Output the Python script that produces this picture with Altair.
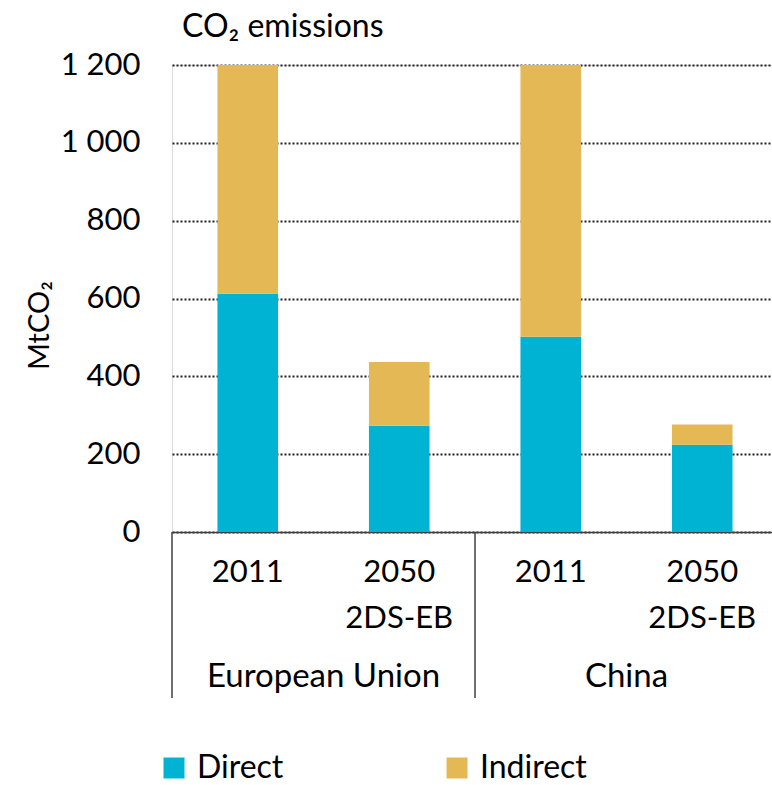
import altair as alt
import pandas as pd

# Source data: CO2 emissions (MtCO2) by region and period
regions = ["European Union", "European Union", "China", "China"]
periods = ["2011", "2050\n2DS-EB", "2011", "2050\n2DS-EB"]
direct = [612, 273, 502, 224]
indirect = [588, 164, 698, 52]
sources = ["Direct", "Indirect"]
colors = ["#00B3D3", "#E3B855"]
y_ticks = [0, 200, 400, 600, 800, 1000, 1200]
group_names = ["European Union", "China"]
chart_title = ["CO₂ emissions"]

FONT = "Lato"
W, H = 600, 467

keys = [f"{r} | {p}" for r, p in zip(regions, periods)]

rows = []
for k, d, i in zip(keys, direct, indirect):
    rows.append({"key": k, "source": sources[0], "value": d, "order": 0})
    rows.append({"key": k, "source": sources[1], "value": i, "order": 1})
bars_df = pd.DataFrame(rows)

labels_df = pd.DataFrame({"key": keys, "period": periods})
# group label sits on the boundary between the two bars of each region
groups_df = pd.DataFrame({"key": [keys[1], keys[3]], "name": group_names})
# separators at the left edge of each region block
seps_df = pd.DataFrame({"key": [keys[0], keys[2]]})
title_df = pd.DataFrame({"text": chart_title})

x_scale = alt.Scale(domain=keys, range=[0, 606], paddingInner=0, paddingOuter=0)

bars = alt.Chart(bars_df).mark_bar(width=alt.RelativeBandSize(0.4)).encode(
    x=alt.X("key:N", scale=x_scale, sort=keys,
            axis=alt.Axis(labels=False, ticks=False, title=None, grid=False,
                          domainColor="#404040", domainWidth=1.5)),
    y=alt.Y("value:Q", stack="zero",
            scale=alt.Scale(domain=[0, 1200], nice=False),
            axis=alt.Axis(values=y_ticks, domain=False, ticks=False,
                          labelExpr="replace(format(datum.value, ','), ',', ' ')",
                          labelFont=FONT, labelFontSize=31, labelColor="#000000",
                          labelPadding=32,
                          grid=True, gridColor="#222222", gridDash=[2, 2], gridWidth=2,
                          title="MtCO₂", titleFont=FONT, titleFontSize=29,
                          titleFontWeight="normal", titleColor="#000000",
                          titleAngle=-90, titleAlign="center", titleBaseline="middle",
                          titleX=-133, titleY=260)),
    color=alt.Color("source:N", scale=alt.Scale(domain=sources, range=colors),
                    legend=alt.Legend(title=None, orient="none", direction="horizontal",
                                      legendX=-14, legendY=687, padding=0,
                                      symbolType="square", symbolSize=441,
                                      symbolStrokeWidth=0, symbolOpacity=1,
                                      labelFont=FONT, labelFontSize=32,
                                      labelColor="#000000", labelOffset=7,
                                      columnPadding=157)),
    order=alt.Order("order:Q"),
)

period_text = alt.Chart(labels_df).mark_text(
    font=FONT, fontSize=31, color="#000000", lineBreak="\n", lineHeight=46,
    baseline="alphabetic", align="center",
).encode(
    x=alt.X("key:N", scale=x_scale, sort=keys),
    y=alt.value(517),
    text="period:N",
)

group_text = alt.Chart(groups_df).mark_text(
    font=FONT, fontSize=33, color="#000000", baseline="alphabetic", align="center",
).encode(
    x=alt.X("key:N", scale=x_scale, sort=keys, bandPosition=0),
    y=alt.value(622),
    text="name:N",
)

separators = alt.Chart(seps_df).mark_rule(color="#404040", strokeWidth=1.5).encode(
    x=alt.X("key:N", scale=x_scale, sort=keys, bandPosition=0),
    y=alt.value(H),
    y2=alt.value(633),
)

title_text = alt.Chart(title_df).mark_text(
    font=FONT, fontSize=32, color="#000000", baseline="alphabetic", align="left",
).encode(
    x=alt.value(10),
    y=alt.value(-28),
    text="text:N",
)

chart = alt.layer(bars, separators, period_text, group_text, title_text).properties(
    width=W,
    height=H,
    autosize=alt.AutoSizeParams(type="none"),
    padding={"left": 172, "top": 65, "right": 0, "bottom": 253},
).configure_view(stroke=None).configure(background="#ffffff")

chart.save("out.html", embed_options={"renderer": "svg", "actions": False})
